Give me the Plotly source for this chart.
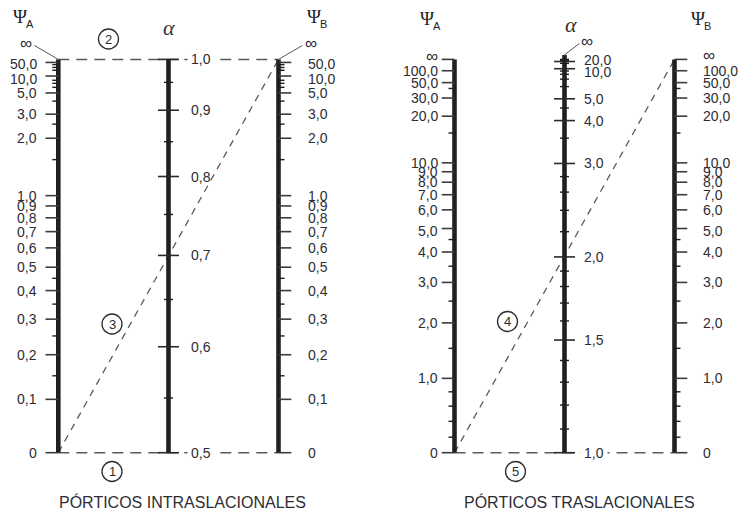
import math
import numpy as np
import plotly.graph_objects as go

INF = math.inf

# ---------------- data: scale tick values ----------------
# Braced frames (PÓRTICOS INTRASLACIONALES)
BR_PSI_MAJOR = [0, 0.1, 0.2, 0.3, 0.4, 0.5, 0.6, 0.7, 0.8, 0.9, 1.0, 2.0, 3.0, 5.0, 10.0, 50.0]
BR_PSI_MINOR = [0.15, 0.25, 0.35, 0.45, 1.5, 2.5, 4.0, 6.0, 7.0, 8.0, 15.0, 20.0, 30.0]
BR_ALPHA_MAJOR = [0.5, 0.6, 0.7, 0.8, 0.9, 1.0]
BR_ALPHA_MINOR = [0.55, 0.65, 0.75, 0.85, 0.95]

# Sway frames (PÓRTICOS TRASLACIONALES)
SW_PSI_MAJOR = [0, 1.0, 2.0, 3.0, 4.0, 5.0, 6.0, 7.0, 8.0, 9.0, 10.0, 20.0, 30.0, 50.0, 100.0, INF]
SW_PSI_MINOR = [0.2, 0.4, 0.6, 0.8, 1.5, 2.5, 3.5, 4.5, 15.0, 40.0]
SW_ALPHA_MAJOR = [1.0, 1.5, 2.0, 3.0, 4.0, 5.0, 10.0, 20.0]
SW_ALPHA_MINOR = [1.1, 1.2, 1.3, 1.4, 1.6, 1.7, 1.8, 1.9, 2.2, 2.4, 2.6, 2.8,
                  3.5, 4.5, 6.0, 7.0, 8.0, 9.0, 15.0, 30.0, INF]

# Example alignment lines: (number, Psi_A, Psi_B)
BR_EXAMPLES = [("1", 0, 0), ("2", INF, INF), ("3", 0, INF)]
SW_EXAMPLES = [("5", 0, 0), ("4", 0, INF)]

TITLE_BR = "PÓRTICOS INTRASLACIONALES"
TITLE_SW = "PÓRTICOS TRASLACIONALES"

# ---------------- scales ----------------
PSI_EXP = 1.08
BR_PSI_C = 0.53
SW_PSI_C = 4.29


def psi_pos(g, c):
    if math.isinf(g):
        return 1.0
    gp = g ** PSI_EXP
    return gp / (gp + c)


def g_braced(k):
    # symmetric braced frame: G for effective length factor k
    if k <= 0.5:
        return 0.0
    if k >= 1.0:
        return INF
    x = math.pi / k
    a = x * x / 4
    b = 1 - x / math.tan(x)
    cc = 2 * math.tan(x / 2) / x - 1
    return (-b + math.sqrt(b * b - 4 * a * cc)) / (2 * a)


def g_sway(k):
    if k <= 1.0:
        return 0.0
    if math.isinf(k):
        return INF
    x = math.pi / k
    r = x / math.tan(x)
    return 6 * (r + math.sqrt(r * r + x * x)) / (x * x)


def br_alpha_pos(k):
    return psi_pos(g_braced(k), BR_PSI_C)


def sw_alpha_pos(k):
    return psi_pos(g_sway(k), SW_PSI_C)


def br_psi_pos(g):
    return psi_pos(g, BR_PSI_C)


def sw_psi_pos(g):
    return psi_pos(g, SW_PSI_C)


def fmt(v):
    if math.isinf(v):
        return "∞"
    if v == 0:
        return "0"
    return f"{v:.1f}".replace(".", ",")


# ---------------- layout constants ----------------
W, H = 738, 514
Y0_PX, Y1_PX = 452.7, 59.4          # pixel rows of scale 0 and scale 1
SPAN = Y0_PX - Y1_PX


def fy(p):  # pixel row -> scale units
    return (Y0_PX - p) / SPAN


BR_X = {"A": 58.3, "alpha": 168.5, "B": 278.5}
SW_X = {"A": 454.5, "alpha": 564.5, "B": 674.5}

AXIS_COLOR = "#231f20"
TEXT_COLOR = "#2d2d33"
DASH_COLOR = "#5a5a5a"
FONT = "Liberation Sans, Arial, sans-serif"
SERIF = "Liberation Serif, Times New Roman, serif"
LABEL_SIZE = 14.0

fig = go.Figure()
annotations = []
shapes = []


def add_lines(segs, width, color, dash="solid"):
    xs, ys = [], []
    for (x0, y0, x1, y1) in segs:
        xs += [x0, x1, None]
        ys += [y0, y1, None]
    fig.add_trace(go.Scatter(x=xs, y=ys, mode="lines", hoverinfo="skip",
                             line=dict(color=color, width=width, dash=dash),
                             showlegend=False))


def label(x, y, text, anchor, size=LABEL_SIZE, bg=None, yshift=0, family=FONT,
          color=TEXT_COLOR):
    d = dict(x=x, y=y, xref="x", yref="y", text=text, showarrow=False,
             xanchor=anchor, yanchor="middle", yshift=yshift,
             font=dict(family=family, size=size, color=color), borderpad=0)
    if bg:
        d["bgcolor"] = bg
        d["borderpad"] = 3
        d["x"] = x - 3
    annotations.append(d)


def psi_scale(ax_x, side, major, minor, posf, label_off, nudges=None, top_ext=0.0):
    nudges = nudges or {}
    add_lines([(ax_x, 0, ax_x, 1 + top_ext)], 4.6, AXIS_COLOR)
    s = -1 if side == "left" else 1
    add_lines([(ax_x, posf(v), ax_x + s * 12.8, posf(v)) for v in major], 1.6, "#3c3c3c")
    add_lines([(ax_x, posf(v), ax_x + s * 6.0, posf(v)) for v in minor], 1.4, "#1e1e1e")
    for v in major:
        label(ax_x + label_off, posf(v), fmt(v), "right" if side == "left" else "left",
              size=(17 if math.isinf(v) else LABEL_SIZE), yshift=-nudges.get(v, 0))


def alpha_scale(ax_x, major, minor, posf, label_off, nudges=None, bg_vals=(), top_ext=0.0):
    nudges = nudges or {}
    add_lines([(ax_x, 0, ax_x, 1 + top_ext)], 4.6, AXIS_COLOR)
    add_lines([(ax_x - 10.5, posf(v), ax_x + 10.5, posf(v)) for v in major], 1.6, "#2a2a2a")
    add_lines([(ax_x - 4.5, posf(v), ax_x + 4.5, posf(v)) for v in minor], 1.4, "#1e1e1e")
    for v in major:
        label(ax_x + label_off, posf(v), fmt(v), "left",
              bg="white" if v in bg_vals else None, yshift=-nudges.get(v, 0))


def example_lines(xs, examples, posf):
    for num, ga, gb in examples:
        ya, yb = posf(ga), posf(gb)
        dash = "11px,7px" if ya == yb else "7px,6px"
        width = 1.5 if ya == yb else 1.3
        add_lines([(xs["A"], ya, xs["B"], yb)], width, DASH_COLOR, dash)


def circled(cx, cy, num):
    r = 10.0
    shapes.append(dict(type="circle", xref="x", yref="y", x0=cx - r, x1=cx + r,
                       y0=fy(cy + r), y1=fy(cy - r), line=dict(color="#2d2d2d", width=1.3),
                       fillcolor="white", layer="above"))
    annotations.append(dict(x=cx, y=fy(cy), xref="x", yref="y", text=num, showarrow=False,
                            font=dict(family=FONT, size=13, color=TEXT_COLOR)))


# dashed example lines first (underneath)
example_lines(BR_X, BR_EXAMPLES, br_psi_pos)
example_lines(SW_X, SW_EXAMPLES, sw_psi_pos)

# braced nomograph
psi_scale(BR_X["A"], "left", BR_PSI_MAJOR, BR_PSI_MINOR, br_psi_pos, -20.5, {50.0: 2, 10.0: 2.5})
psi_scale(BR_X["B"], "right", BR_PSI_MAJOR, BR_PSI_MINOR, br_psi_pos, 28.0, {50.0: 2, 10.0: 2.5})
alpha_scale(BR_X["alpha"], BR_ALPHA_MAJOR, BR_ALPHA_MINOR, br_alpha_pos, 21.5,
            bg_vals=(0.5, 1.0))

# sway nomograph
psi_scale(SW_X["A"], "left", SW_PSI_MAJOR, SW_PSI_MINOR, sw_psi_pos, -16.0,
          {INF: -3.0, 5.0: 2})
psi_scale(SW_X["B"], "right", SW_PSI_MAJOR, SW_PSI_MINOR, sw_psi_pos, 27.0,
          {INF: -4.0, 5.0: 2})
alpha_scale(SW_X["alpha"], SW_ALPHA_MAJOR, SW_ALPHA_MINOR, sw_alpha_pos, 18.5,
            nudges={20.0: -2.0, 10.0: 3.4}, bg_vals=(1.0,), top_ext=4.5 / SPAN)

# infinity leaders (braced Psi scales, sway alpha scale)
LEAD_DX, LEAD_DY = 24.0, 14.0
for ax_x, s in ((BR_X["A"], -1), (BR_X["B"], 1)):
    top = br_psi_pos(INF)
    add_lines([(ax_x, top, ax_x + s * LEAD_DX, top + LEAD_DY / SPAN)], 1.0, "#555555")
    label(ax_x + s * (LEAD_DX + 1), top + (LEAD_DY + 1.5) / SPAN, "∞",
          "right" if s < 0 else "left", size=17)
top_a = sw_alpha_pos(INF) + 4.5 / SPAN
add_lines([(SW_X["alpha"], top_a, SW_X["alpha"] + 15, top_a + 11.5 / SPAN)], 1.0, "#555555")
label(SW_X["alpha"] + 15.5, top_a + 13.0 / SPAN, "∞", "left", size=17)

# headers: Psi glyph + sans-serif subscript
for x, y, ch in ((20, 16.0, "A"), (314, 16.0, "B"), (427, 18.0, "A"), (698, 18.0, "B")):
    label(x, fy(y), "Ψ", "center", size=19, family=SERIF, color="#1e1e1e")
    label(x + 9.5, fy(y + 7.5), ch, "center", size=11, family=FONT, color="#1e1e1e")
for x, y in ((169, 27), (571, 24.5)):
    label(x, fy(y), "<i>α</i>", "center", size=22, family=SERIF, color="#333333")

# circled numbers
circled(108.5, 39.0, "2")
circled(112.0, 324.0, "3")
circled(112.0, 471.5, "1")
circled(507.5, 321.5, "4")
circled(515.5, 471.5, "5")

# titles
for x, t in ((182.5, TITLE_BR), (579.0, TITLE_SW)):
    label(x, fy(501.5), t, "center", size=16)

fig.update_layout(
    width=W, height=H, autosize=False,
    margin=dict(l=0, r=0, t=0, b=0, pad=0),
    paper_bgcolor="white", plot_bgcolor="white",
    xaxis=dict(range=[0, W], visible=False, fixedrange=True),
    yaxis=dict(range=[fy(H), fy(0)], visible=False, fixedrange=True),
    annotations=annotations, shapes=shapes, showlegend=False,
)
fig.write_html("out.html", config={"displayModeBar": False},
               post_script="document.body.style.margin='0';document.body.style.overflow='hidden';")
